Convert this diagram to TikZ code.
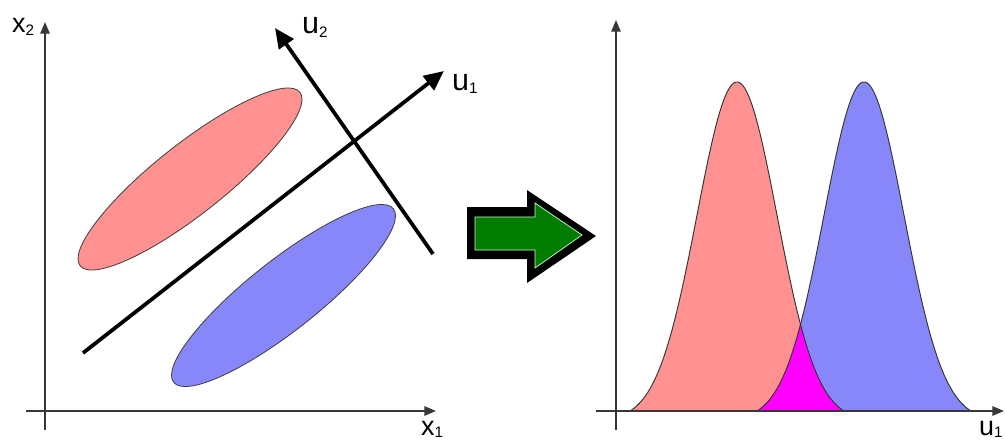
\documentclass[tikz,border=0pt]{standalone}
\usepackage{fontspec}
\setmainfont{Liberation Sans}
\usetikzlibrary{arrows.meta}
\definecolor{redfill}{RGB}{255,145,145}
\definecolor{bluefill}{RGB}{135,135,250}
\definecolor{magfill}{RGB}{255,0,255}
\definecolor{greenfill}{RGB}{0,125,0}
\definecolor{axisgray}{RGB}{55,55,55}
\newcommand\mysub[2]{\lower#1\hbox{\fontsize{13}{13}\selectfont #2}}
\begin{document}
\begin{tikzpicture}[x=0.03cm,y=-0.03cm,
  axis/.style={draw=axisgray,line width=1.6pt,-{Triangle[length=10pt,width=8pt]}},
  uaxis/.style={draw=black,line width=3.2pt,-{Triangle[length=17pt,width=15pt]}},
  blob/.style={draw=black!75,line width=0.7pt},
  curve/.style={draw=black!80,line width=0.8pt},
  xlbl/.style={inner sep=0pt,anchor=base west,font=\fontsize{23}{23}\selectfont},
  ulbl/.style={inner sep=0pt,anchor=base west,font=\fontsize{26}{26}\selectfont},
  declare function={
    gr(\x)=411-329*(exp(-((\x-737)^2)/3200)-0.0279)/0.9721;
    gb(\x)=411-329*(exp(-((\x-864)^2)/3200)-0.0279)/0.9721;
  }]
\clip (0,0) rectangle (1005,442);
\useasboundingbox (0,0) rectangle (1005,442);

% ---------- left panel ----------
\fill[redfill] [rotate around={38.3:(190,179)}] (190,179) ellipse [x radius=140,y radius=35];
\draw[blob] [rotate around={38.3:(190,179)}] (190,179) ellipse [x radius=140,y radius=35];
\fill[bluefill] [rotate around={38.3:(283.5,295.5)}] (283.5,295.5) ellipse [x radius=140,y radius=35];
\draw[blob] [rotate around={38.3:(283.5,295.5)}] (283.5,295.5) ellipse [x radius=140,y radius=35];

\coordinate (lvb) at (45,430);
\coordinate (lvt) at (45,22);
\coordinate (lhl) at (26,411);
\coordinate (lhr) at (436,411);
\draw[axis] (lvb) -- (lvt);
\draw[axis] (lhl) -- (lhr);

\coordinate (u1s) at (83,353);
\coordinate (u1e) at (444,71);
\coordinate (u2s) at (433,254);
\coordinate (u2e) at (275,28);
\draw[uaxis] (u1s) -- (u1e);
\draw[uaxis] (u2s) -- (u2e);

\node[xlbl] (lx2) at (12,32) {x\mysub{3pt}{2}};
\node[xlbl] (lx1) at (421,435) {x\mysub{2.5pt}{1}};
\node[ulbl] (lu2) at (302,33) {u\mysub{4pt}{2}};
\node[ulbl] (lu1) at (452,90) {u\mysub{3pt}{1}};

% ---------- big green arrow ----------
\fill[black] (467,207) -- (527,207) -- (527,190) -- (596,236) -- (527,283) -- (527,259) -- (467,259) -- cycle;
\filldraw[fill=greenfill,draw=white!80!green,line width=0.6pt]
  (475,217) -- (535,217) -- (535,203) -- (582,235) -- (535,268) -- (535,250) -- (475,250) -- cycle;

% ---------- right panel ----------
\fill[redfill] plot[domain=630:844,samples=120] (\x,{gr(\x)}) -- cycle;
\fill[bluefill] plot[domain=757:971,samples=120] (\x,{gb(\x)}) -- cycle;
\fill[magfill] plot[domain=757:800.5,samples=50] (\x,{gb(\x)}) -- plot[domain=800.5:844,samples=50] (\x,{gr(\x)}) -- cycle;
\draw[curve] plot[domain=630:844,samples=120] (\x,{gr(\x)});
\draw[curve] plot[domain=757:971,samples=120] (\x,{gb(\x)});

\coordinate (rvb) at (616,430);
\coordinate (rvt) at (616,20);
\coordinate (rhl) at (596,411);
\coordinate (rhr) at (1004,411);
\draw[axis] (rvb) -- (rvt);
\draw[axis] (rhl) -- (rhr);
\node[xlbl] (ru) at (979,435) {u\mysub{2.5pt}{1}};
\end{tikzpicture}
\end{document}
